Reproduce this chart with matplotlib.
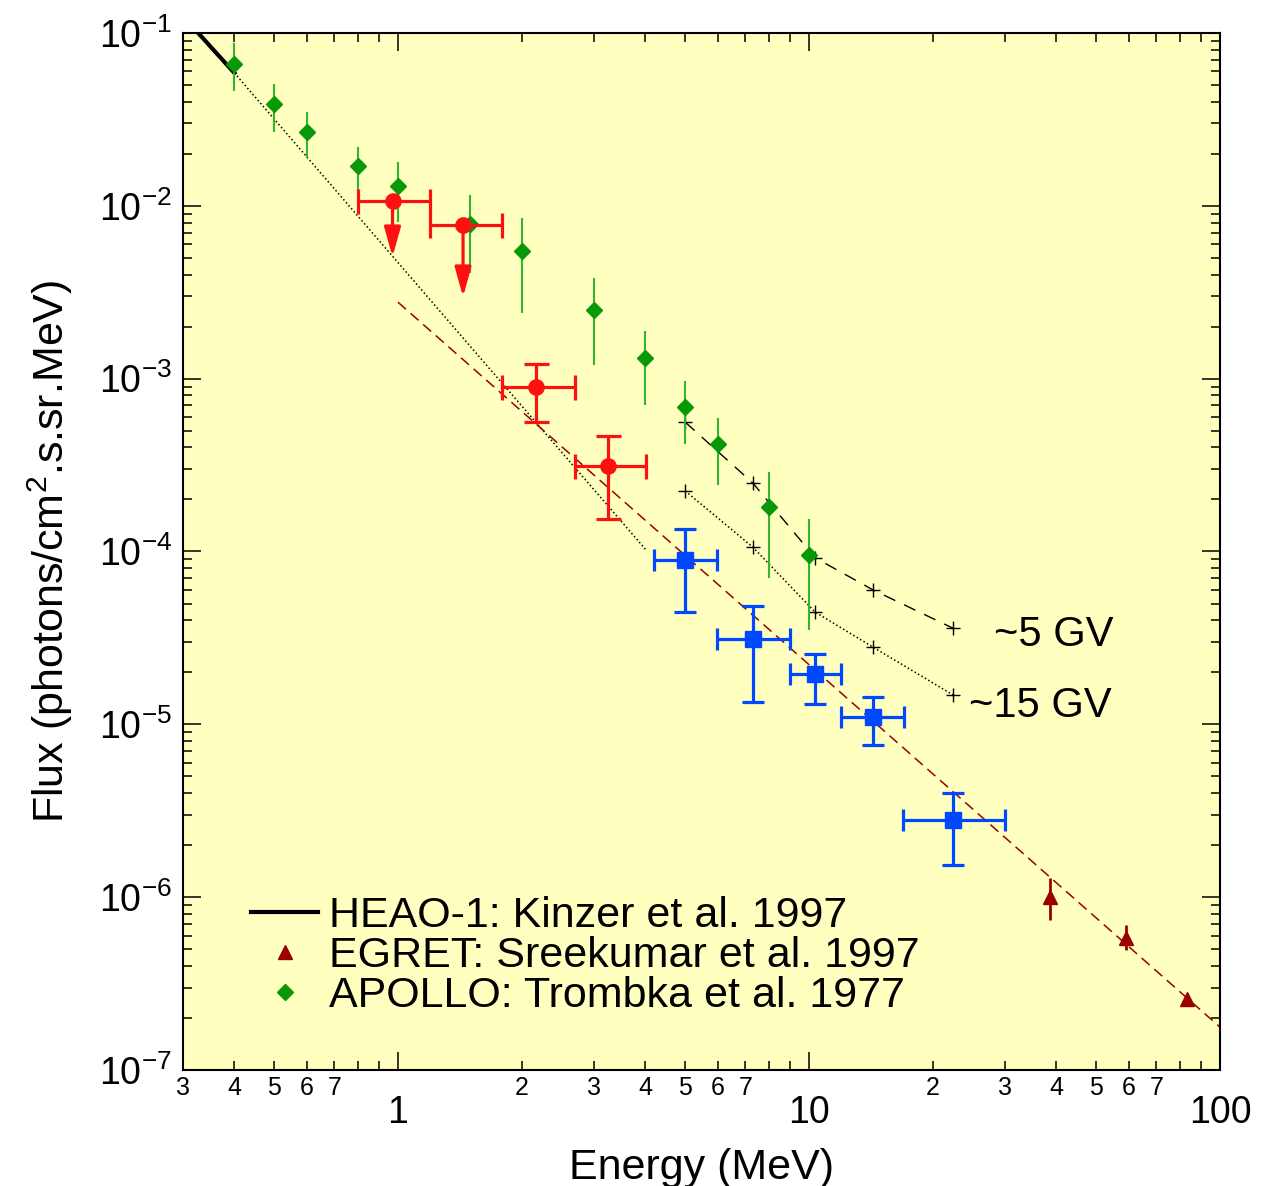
import numpy as np
import matplotlib
matplotlib.use("Agg")
import matplotlib.pyplot as plt
from matplotlib.ticker import FixedLocator, FixedFormatter, NullFormatter

plt.rcParams['font.family'] = ['Liberation Sans', 'DejaVu Sans']
plt.rcParams['mathtext.fontset'] = 'custom'
plt.rcParams['mathtext.rm'] = 'Liberation Sans'
plt.rcParams['mathtext.it'] = 'Liberation Sans:italic'

# Data

# APOLLO: Trombka et al. 1977
apollo_e  = [0.4, 0.5, 0.6, 0.8, 1.0, 1.5, 2.0, 3.0, 4.0, 5.0, 6.0, 8.0, 10.0]
apollo_f  = [0.066, 0.0388, 0.0267, 0.017, 0.013, 0.0079, 0.0055, 0.0025,
             0.00131, 0.00069, 0.00042, 0.00018, 9.5e-5]
apollo_hi = [0.087, 0.0507, 0.0349, 0.0219, 0.0179, 0.0115, 0.0085, 0.0038,
             0.00188, 0.00097, 0.00059, 0.000288, 1.54e-4]
apollo_lo = [0.046, 0.0267, 0.0189, 0.012, 0.00805, 0.0041, 0.0024, 0.0012,
             0.0007, 0.00042, 0.000242, 7.0e-5, 3.5e-5]

# red points: two upper limits and two detections
ul_e      = [0.97, 1.44]
ul_f      = [0.01066, 0.00774]
ul_elo    = [0.80, 1.20]
ul_ehi    = [1.20, 1.79]
ul_arrow  = [0.00506, 0.00297]

red_e     = [2.17, 3.24]
red_f     = [0.000893, 0.000312]
red_elo   = [1.79, 2.70]
red_ehi   = [2.70, 4.01]
red_flo   = [0.00056, 0.000154]
red_fhi   = [0.00122, 0.000466]

# blue squares
blue_e    = [5.0, 7.3, 10.35, 14.3, 22.4]
blue_f    = [8.9e-5, 3.11e-5, 1.95e-5, 1.10e-5, 2.79e-6]
blue_elo  = [4.2, 5.97, 8.99, 11.96, 16.9]
blue_ehi  = [5.97, 8.99, 11.96, 17.0, 29.9]
blue_flo  = [4.46e-5, 1.34e-5, 1.31e-5, 7.6e-6, 1.53e-6]
blue_fhi  = [1.35e-4, 4.83e-5, 2.55e-5, 1.44e-5, 4.0e-6]

# EGRET: Sreekumar et al. 1997
egret_e   = [38.6, 59.1, 83.1]
egret_f   = [1.0e-6, 5.8e-7, 2.57e-7]
egret_lo  = [7.36e-7, 4.93e-7, 2.57e-7]
egret_hi  = [1.29e-6, 6.9e-7, 2.57e-7]

# HEAO-1: Kinzer et al. 1997, and its extrapolation
heao_e    = [0.3, 0.4]
heao_f    = [0.125, 0.0587]
extrap_e  = [0.4, 4.0]
extrap_f  = [0.0587, 1.03e-4]

# power-law fit (dark red dashed)
fit_e     = [1.0, 100.0]
fit_f     = [0.00277, 1.77e-7]

# cutoff rigidity curves
gv_e      = [5.0, 7.3, 10.35, 14.3, 22.4]
gv5_f     = [5.6e-4, 2.49e-4, 9.2e-5, 6.0e-5, 3.6e-5]
gv15_f    = [2.24e-4, 1.06e-4, 4.46e-5, 2.8e-5, 1.48e-5]

# Colours
BG      = '#ffffc0'
GREEN   = '#089808'
GREEN_E = '#33b533'
RED     = '#ff1010'
BLUE    = '#0048ff'
DKRED   = '#9a0000'

FS_TICK  = 27
FS_LABEL = 31
FS_NOTE  = 30


def asym(center, lo, hi):
    c = np.asarray(center)
    return [c - np.asarray(lo), np.asarray(hi) - c]


fig = plt.figure(figsize=(12.63, 11.86), dpi=100)
ax = fig.add_axes([0.1449, 0.0978, 0.8211, 0.8744])
ax.set_facecolor(BG)
ax.set_xscale('log')
ax.set_yscale('log')
ax.set_xlim(0.3, 100)
ax.set_ylim(1e-7, 1e-1)

# lines
heao_line, = ax.plot(heao_e, heao_f, color='black', lw=3.0, zorder=4)
ax.plot(extrap_e, extrap_f, color='black', lw=1.1, ls=(0, (1, 1.6)), zorder=2)
ax.plot(fit_e, fit_f, color=DKRED, lw=1.1, ls=(0, (7, 4)), zorder=2)
ax.plot(gv_e, gv5_f, color='black', lw=1.0, ls=(0, (9, 7)), marker='+',
        ms=10, mew=1.0, zorder=3)
ax.plot(gv_e, gv15_f, color='black', lw=1.1, ls=(0, (1, 1.6)), marker='+',
        ms=10, mew=1.0, zorder=3)

# APOLLO
apollo = ax.errorbar(apollo_e, apollo_f, yerr=asym(apollo_f, apollo_lo, apollo_hi),
                     fmt='D', color=GREEN, ecolor=GREEN_E, elinewidth=1.5,
                     ms=8, capsize=0, zorder=5)

# red upper limits
ax.errorbar(ul_e, ul_f, xerr=asym(ul_e, ul_elo, ul_ehi), fmt='o', color=RED,
            ms=11, elinewidth=2.3, capsize=9, capthick=2.3, zorder=6)
for e, f, a in zip(ul_e, ul_f, ul_arrow):
    ax.annotate('', xy=(e, a), xytext=(e, f),
                arrowprops=dict(arrowstyle='-|>,head_length=1.8,head_width=0.5',
                                mutation_scale=10, color=RED, lw=2.3,
                                shrinkA=0, shrinkB=0),
                zorder=6)

# red detections
ax.errorbar(red_e, red_f, xerr=asym(red_e, red_elo, red_ehi),
            yerr=asym(red_f, red_flo, red_fhi), fmt='o', color=RED,
            ms=11, elinewidth=2.3, capsize=9, capthick=2.3, zorder=6)

# blue squares
ax.errorbar(blue_e, blue_f, xerr=asym(blue_e, blue_elo, blue_ehi),
            yerr=asym(blue_f, blue_flo, blue_fhi), fmt='s', color=BLUE,
            ms=11, elinewidth=2.3, capsize=8, capthick=2.3, zorder=6)

# EGRET
egret = ax.errorbar(egret_e, egret_f, yerr=asym(egret_f, egret_lo, egret_hi),
                    fmt='^', color=DKRED, ms=10, elinewidth=2.0, capsize=0,
                    zorder=6)

ax.text(28.2, 3.28e-5, '~5 GV', fontsize=FS_NOTE, ha='left', va='center')
ax.text(24.5, 1.27e-5, '~15 GV', fontsize=FS_NOTE, ha='left', va='center')

# ticks
major_x = [1, 10, 100]
minor_x = [0.3, 0.4, 0.5, 0.6, 0.7, 0.8, 0.9,
           2, 3, 4, 5, 6, 7, 8, 9,
           20, 30, 40, 50, 60, 70, 80, 90]
minor_x_labels = ['3', '4', '5', '6', '7', '', '',
                  '2', '3', '4', '5', '6', '7', '', '',
                  '2', '3', '4', '5', '6', '7', '', '']
ax.xaxis.set_major_locator(FixedLocator(major_x))
ax.xaxis.set_major_formatter(FixedFormatter(['1', '10', '100']))
ax.xaxis.set_minor_locator(FixedLocator(minor_x))
ax.xaxis.set_minor_formatter(FixedFormatter(minor_x_labels))

major_y = [1e-7, 1e-6, 1e-5, 1e-4, 1e-3, 1e-2, 1e-1]
ax.yaxis.set_major_locator(FixedLocator(major_y))
ax.yaxis.set_major_formatter(FixedFormatter(
    [r'$10^{%d}$' % int(np.log10(v)) for v in major_y]))
ax.yaxis.set_minor_locator(FixedLocator(
    [m * 10.0 ** k for k in range(-7, -1) for m in range(2, 10)]))
ax.yaxis.set_minor_formatter(NullFormatter())

ax.tick_params(which='both', direction='in', top=True, right=True, width=1.1,
               color='black')
ax.tick_params(which='major', length=13)
ax.tick_params(which='minor', length=6.5)
ax.tick_params(axis='x', which='major', labelsize=FS_TICK, pad=18)
ax.tick_params(axis='x', which='minor', labelsize=18, pad=4)
ax.tick_params(axis='y', which='major', labelsize=FS_TICK, pad=8)
for s in ax.spines.values():
    s.set_linewidth(1.5)
    s.set_color('black')

ax.set_xlabel('Energy (MeV)', fontsize=FS_LABEL, labelpad=12)
ax.set_ylabel(r'Flux (photons/cm$^2$.s.sr.MeV)', fontsize=FS_LABEL, labelpad=17)

ax.legend(handles=[heao_line, egret[0], apollo[0]],
          labels=['HEAO-1: Kinzer et al. 1997', 'EGRET: Sreekumar et al. 1997',
                  'APOLLO: Trombka et al. 1977'],
          loc='lower left', bbox_to_anchor=(0.066, 0.052), frameon=False,
          fontsize=FS_LABEL, handlelength=1.55, handletextpad=0.25,
          labelspacing=0.0, borderpad=0, borderaxespad=0)

fig.savefig('out.png', dpi=100, facecolor='white')
